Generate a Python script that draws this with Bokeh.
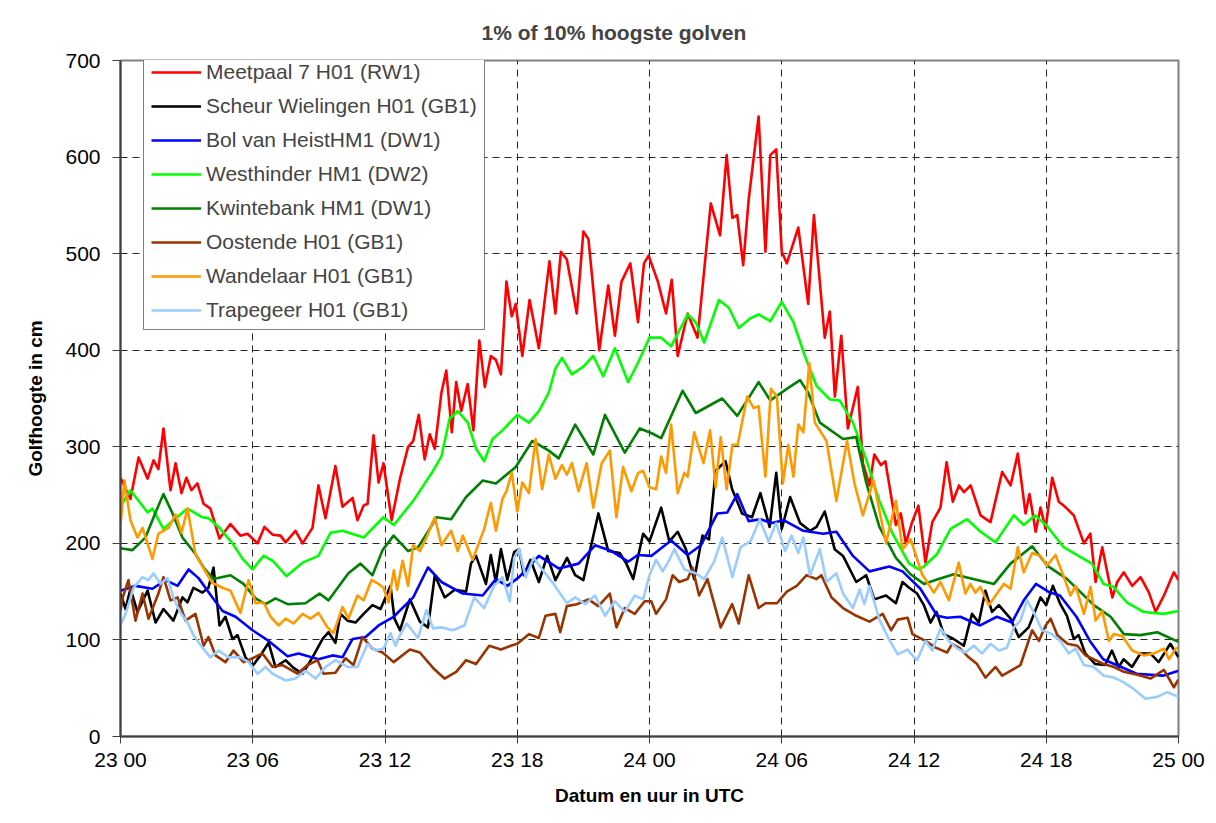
from bokeh.plotting import figure
from bokeh.models import Range1d, FixedTicker, Legend, LegendItem, ColumnDataSource
from bokeh.embed import file_html
from bokeh.resources import INLINE

# ---- data: (hours since 23 00 UTC, wave height in cm) ----
X_TICKS = [0, 6, 12, 18, 24, 30, 36, 42, 48]
X_LABELS = ["23 00", "23 06", "23 12", "23 18", "24 00", "24 06", "24 12", "24 18", "25 00"]
Y_TICKS = [0, 100, 200, 300, 400, 500, 600, 700]

NAMES = ["Meetpaal 7 H01 (RW1)", "Scheur Wielingen H01 (GB1)", "Bol van HeistHM1 (DW1)",
         "Westhinder HM1 (DW2)", "Kwintebank HM1 (DW1)", "Oostende H01 (GB1)",
         "Wandelaar H01 (GB1)", "Trapegeer H01 (GB1)"]
COLORS = ["#FF0000", "#000000", "#0000FF", "#00FF00", "#008000", "#993300", "#FF9900", "#99CCFF"]

meetpaal = [(0.0, 268), (0.45, 246), (0.82, 289), (1.23, 267), (1.5, 286), (1.72, 277), (1.95, 319),
    (2.27, 255), (2.5, 283), (2.77, 252), (2.99, 268), (3.22, 255), (3.49, 262), (3.77, 241), (4.08, 236),
    (4.49, 205), (4.99, 220), (5.44, 208), (5.76, 210), (6.22, 200), (6.53, 217), (6.9, 209), (7.26, 208),
    (7.49, 201), (7.94, 213), (8.26, 200), (8.71, 216), (8.98, 260), (9.3, 226), (9.75, 280), (10.07, 238),
    (10.53, 247), (10.75, 224), (11.03, 239), (11.21, 241), (11.48, 312), (11.71, 263), (11.93, 283),
    (12.3, 224), (12.68, 267), (13.05, 300), (13.28, 306), (13.53, 333), (13.8, 287), (14.03, 313),
    (14.26, 298), (14.56, 356), (14.78, 379), (15.03, 315), (15.23, 367), (15.46, 337), (15.75, 365),
    (16.01, 317), (16.28, 410), (16.53, 362), (16.8, 394), (17.03, 390), (17.26, 375), (17.51, 471),
    (17.75, 435), (17.93, 448), (18.23, 394), (18.56, 452), (18.98, 402), (19.46, 492), (19.73, 438),
    (19.98, 502), (20.25, 494), (20.7, 438), (21.0, 523), (21.23, 515), (21.72, 400), (22.13, 467),
    (22.43, 415), (22.73, 471), (23.13, 490), (23.48, 429), (23.75, 490), (23.96, 498), (24.38, 471),
    (24.75, 438), (25.01, 473), (25.28, 394), (25.73, 438), (26.18, 413), (26.78, 552), (27.2, 519),
    (27.5, 602), (27.76, 537), (27.98, 540), (28.25, 488), (28.5, 556), (28.95, 642), (29.26, 502),
    (29.48, 602), (29.75, 608), (30.0, 502), (30.23, 490), (30.75, 527), (31.2, 448), (31.46, 540),
    (31.95, 413), (32.18, 440), (32.41, 352), (32.7, 415), (33.0, 319), (33.45, 362), (33.68, 283),
    (33.98, 260), (34.2, 292), (34.5, 281), (34.7, 285), (35.18, 219), (35.4, 231), (35.63, 200),
    (35.9, 221), (36.2, 239), (36.52, 180), (36.83, 222), (37.2, 237), (37.48, 284), (37.76, 243),
    (38.04, 260), (38.27, 253), (38.57, 260), (39.02, 229), (39.47, 222), (40.0, 274), (40.38, 260),
    (40.71, 293), (41.06, 231), (41.24, 251), (41.52, 212), (41.74, 237), (41.97, 215), (42.27, 268),
    (42.57, 243), (42.8, 239), (43.25, 229), (43.71, 200), (44.0, 210), (44.24, 160), (44.54, 196),
    (45.0, 144), (45.22, 160), (45.52, 170), (45.9, 156), (46.28, 165), (46.66, 149), (46.96, 129),
    (47.34, 146), (47.79, 170), (48.0, 162)]

scheur = [(0.0, 148), (0.23, 132), (0.45, 153), (0.77, 129), (1.23, 151), (1.59, 118), (1.95, 132),
    (2.4, 120), (2.81, 144), (3.04, 139), (3.31, 154), (3.72, 149), (3.99, 154), (4.22, 175), (4.49, 115),
    (4.76, 124), (5.08, 101), (5.31, 105), (5.67, 82), (5.99, 73), (6.35, 84), (6.72, 97), (7.03, 72),
    (7.49, 79), (7.85, 71), (8.26, 65), (8.71, 82), (9.17, 101), (9.44, 108), (9.75, 97), (9.98, 127),
    (10.3, 120), (10.66, 118), (11.03, 127), (11.43, 136), (11.8, 132), (12.02, 144), (12.25, 156),
    (12.43, 122), (12.68, 110), (13.13, 142), (13.58, 119), (13.95, 113), (14.26, 167), (14.71, 144),
    (15.16, 152), (15.68, 150), (15.9, 179), (16.13, 187), (16.58, 158), (16.8, 188), (17.03, 160),
    (17.26, 194), (17.55, 162), (17.86, 191), (18.08, 194), (18.3, 167), (18.6, 183), (18.98, 160),
    (19.36, 187), (19.73, 162), (20.26, 185), (20.63, 167), (21.0, 162), (21.68, 231), (22.13, 192),
    (22.65, 190), (22.95, 179), (23.26, 163), (23.71, 210), (24.0, 202), (24.53, 237), (24.9, 202),
    (25.28, 212), (25.65, 194), (26.03, 163), (26.4, 208), (26.7, 204), (27.0, 275), (27.45, 285),
    (27.75, 256), (28.2, 231), (28.65, 227), (29.03, 252), (29.45, 217), (29.75, 273), (30.0, 215),
    (30.38, 248), (30.83, 221), (31.28, 213), (31.58, 217), (31.95, 233), (32.4, 194), (32.78, 187),
    (33.38, 160), (33.83, 167), (34.2, 142), (34.73, 146), (35.18, 138), (35.48, 160), (35.78, 154),
    (36.14, 148), (36.45, 136), (36.75, 118), (37.02, 129), (37.35, 106), (37.8, 101), (38.26, 94),
    (38.63, 127), (38.94, 118), (39.24, 151), (39.54, 129), (39.85, 136), (40.38, 122), (40.75, 103),
    (41.2, 113), (41.74, 144), (42.0, 136), (42.3, 156), (42.64, 137), (42.94, 125), (43.25, 101),
    (43.47, 105), (43.77, 86), (44.22, 75), (44.67, 74), (44.98, 89), (45.29, 72), (45.51, 80),
    (45.89, 72), (46.27, 86), (46.72, 86), (47.1, 77), (47.63, 96), (48.0, 82)]

bolvanheist = [(0.0, 151), (0.68, 156), (1.45, 153), (2.04, 162), (2.59, 156), (3.09, 173), (3.54, 164),
    (4.17, 144), (4.63, 130), (5.22, 124), (5.99, 110), (6.72, 99), (7.58, 83), (8.08, 86), (8.98, 80),
    (9.62, 84), (10.07, 82), (10.53, 101), (11.12, 103), (11.71, 115), (12.39, 124), (13.28, 144),
    (13.95, 175), (14.56, 160), (15.53, 148), (16.43, 146), (17.03, 163), (17.55, 156), (18.08, 165),
    (18.98, 187), (19.88, 174), (20.78, 179), (21.53, 198), (22.28, 192), (23.03, 181), (23.48, 188),
    (24.08, 187), (24.98, 203), (25.73, 188), (26.33, 198), (27.08, 231), (27.53, 232), (27.98, 251),
    (28.5, 223), (29.03, 225), (29.55, 221), (30.08, 224), (30.98, 213), (31.88, 210), (32.48, 212),
    (33.23, 187), (33.98, 171), (34.88, 176), (35.48, 171), (35.84, 163), (36.29, 153), (37.05, 125),
    (37.5, 123), (38.1, 124), (39.0, 115), (39.76, 124), (40.44, 118), (40.98, 141), (41.53, 158),
    (42.17, 149), (42.62, 146), (43.37, 124), (43.98, 99), (44.58, 80), (45.19, 74), (46.1, 65),
    (47.3, 63), (48.0, 68)]

westhinder = [(0.0, 238), (0.45, 255), (1.23, 232), (1.45, 236), (1.95, 215), (2.4, 224), (3.04, 236),
    (3.72, 227), (3.99, 226), (4.45, 217), (5.08, 200), (5.54, 184), (5.99, 173), (6.49, 187), (6.9, 182),
    (7.53, 166), (8.26, 180), (8.98, 187), (9.53, 211), (10.07, 213), (11.03, 206), (11.93, 227),
    (12.4, 219), (13.28, 244), (14.18, 275), (14.56, 290), (14.93, 329), (15.3, 337), (15.76, 325),
    (16.13, 298), (16.5, 285), (16.88, 308), (17.33, 317), (18.0, 333), (18.53, 325), (18.98, 337),
    (19.43, 356), (19.73, 381), (20.03, 392), (20.48, 375), (21.0, 383), (21.45, 394), (21.9, 373),
    (22.43, 402), (23.03, 367), (23.48, 387), (24.0, 413), (24.53, 413), (24.98, 404), (25.73, 437),
    (26.1, 429), (26.48, 408), (27.15, 452), (27.6, 444), (28.05, 423), (28.58, 433), (28.95, 437),
    (29.48, 430), (30.0, 450), (30.53, 429), (31.05, 394), (31.58, 363), (32.18, 349), (32.63, 348),
    (33.23, 325), (33.83, 287), (34.43, 244), (35.03, 210), (35.78, 179), (36.23, 173), (36.45, 176),
    (37.05, 189), (37.66, 215), (38.41, 225), (39.02, 212), (39.7, 201), (40.53, 229), (40.98, 219),
    (41.5, 229), (42.03, 218), (42.79, 196), (43.54, 186), (44.07, 179), (44.6, 158), (45.05, 155),
    (45.65, 139), (46.41, 129), (47.32, 127), (48.0, 130)]

kwintebank = [(0.0, 195), (0.54, 193), (1.13, 206), (1.59, 232), (1.95, 251), (2.36, 231), (2.81, 206),
    (3.4, 189), (3.77, 175), (4.22, 163), (4.99, 167), (5.58, 158), (6.13, 143), (6.58, 137), (7.03, 143),
    (7.58, 137), (8.39, 138), (9.03, 148), (9.44, 141), (10.34, 169), (10.89, 179), (11.43, 167),
    (11.89, 193), (12.39, 208), (13.05, 192), (13.5, 196), (13.95, 212), (14.33, 227), (15.0, 225),
    (15.68, 248), (16.43, 265), (17.03, 262), (17.93, 279), (18.68, 306), (19.43, 296), (19.88, 288),
    (20.63, 323), (21.45, 292), (21.98, 333), (22.88, 294), (23.56, 319), (24.1, 314), (24.53, 309),
    (25.5, 358), (26.1, 335), (27.3, 350), (27.98, 332), (28.95, 367), (29.48, 348), (30.23, 360),
    (30.83, 369), (31.2, 356), (31.73, 325), (32.78, 308), (33.38, 310), (33.83, 263), (34.43, 217),
    (35.18, 185), (35.84, 168), (36.45, 158), (36.98, 162), (37.8, 168), (38.87, 162), (39.63, 158),
    (40.38, 179), (41.36, 197), (42.04, 177), (42.95, 163), (44.16, 136), (44.92, 124), (45.52, 106),
    (46.28, 105), (47.04, 108), (48.0, 98)]

oostende = [(0.0, 130), (0.09, 143), (0.36, 162), (0.68, 120), (1.0, 148), (1.27, 122), (1.72, 148),
    (1.95, 165), (2.27, 141), (2.59, 144), (2.95, 120), (3.4, 127), (3.77, 94), (3.99, 103), (4.31, 84),
    (4.76, 77), (5.13, 89), (5.58, 77), (5.99, 81), (6.44, 86), (6.9, 72), (7.35, 74), (8.03, 65),
    (8.48, 74), (8.94, 79), (9.21, 65), (9.75, 66), (10.21, 81), (10.57, 74), (10.98, 103), (11.43, 91),
    (11.89, 87), (12.39, 77), (13.13, 90), (13.58, 87), (14.18, 71), (14.7, 60), (15.23, 67), (15.68, 79),
    (16.13, 75), (16.73, 94), (17.26, 90), (17.71, 94), (18.0, 96), (18.53, 106), (18.98, 102),
    (19.28, 125), (19.73, 127), (19.95, 108), (20.25, 135), (20.7, 137), (21.23, 142), (21.68, 135),
    (22.2, 148), (22.5, 113), (22.88, 133), (23.33, 127), (23.78, 140), (24.08, 140), (24.3, 127),
    (24.75, 142), (25.05, 167), (25.35, 160), (25.73, 163), (25.95, 175), (26.25, 146), (26.63, 163),
    (27.23, 113), (27.75, 137), (28.05, 117), (28.5, 167), (28.95, 133), (29.26, 138), (29.78, 138),
    (30.23, 150), (30.68, 156), (31.13, 167), (31.58, 163), (31.8, 167), (32.26, 144), (32.78, 133),
    (33.38, 125), (33.98, 119), (34.58, 127), (34.96, 110), (35.26, 121), (35.71, 123), (35.93, 106),
    (36.52, 99), (36.98, 92), (37.5, 87), (37.73, 96), (38.1, 91), (38.48, 82), (38.86, 75), (39.24, 61),
    (39.7, 72), (40.0, 63), (40.38, 68), (40.83, 74), (41.36, 110), (41.67, 99), (41.97, 115), (42.2, 122),
    (42.5, 105), (42.96, 96), (43.41, 94), (43.78, 84), (44.24, 79), (44.61, 75), (45.07, 72), (45.52, 67),
    (46.13, 64), (46.73, 60), (47.34, 69), (47.79, 51), (48.0, 59)]

wandelaar = [(0.0, 219), (0.18, 265), (0.45, 224), (0.77, 206), (1.0, 216), (1.45, 184), (1.72, 210),
    (2.18, 216), (2.5, 230), (2.77, 211), (3.04, 236), (3.4, 189), (3.77, 174), (4.17, 159), (4.63, 154),
    (4.99, 151), (5.44, 128), (5.81, 162), (6.13, 138), (6.49, 139), (6.81, 124), (7.17, 115), (7.49, 122),
    (7.85, 117), (8.26, 127), (8.62, 122), (8.98, 128), (9.39, 113), (9.66, 107), (10.07, 134), (10.34, 122),
    (10.75, 146), (11.03, 141), (11.39, 162), (11.71, 158), (11.93, 154), (12.16, 139), (12.4, 172),
    (12.55, 152), (12.8, 182), (13.05, 156), (13.28, 198), (13.58, 192), (13.88, 206), (14.26, 227),
    (14.56, 198), (15.0, 213), (15.3, 192), (15.53, 208), (15.98, 183), (16.5, 215), (16.8, 242),
    (17.03, 213), (17.33, 246), (17.51, 254), (17.75, 273), (18.0, 233), (18.23, 263), (18.53, 252),
    (18.83, 308), (19.13, 256), (19.43, 292), (19.73, 267), (20.03, 281), (20.25, 271), (20.48, 283),
    (20.78, 254), (21.15, 283), (21.45, 237), (21.83, 283), (22.2, 296), (22.5, 227), (22.8, 279),
    (23.18, 254), (23.48, 273), (23.71, 275), (24.0, 258), (24.3, 256), (24.53, 290), (24.75, 273),
    (24.98, 323), (25.28, 252), (25.58, 273), (25.73, 269), (26.03, 315), (26.45, 283), (26.75, 317),
    (27.0, 258), (27.23, 310), (27.5, 256), (27.76, 302), (28.0, 302), (28.43, 352), (28.73, 340),
    (28.95, 342), (29.26, 269), (29.51, 360), (29.78, 352), (30.05, 262), (30.3, 302), (30.53, 269),
    (30.75, 323), (30.98, 315), (31.25, 387), (31.5, 325), (32.03, 306), (32.48, 244), (32.96, 306),
    (33.3, 262), (33.68, 229), (34.16, 265), (34.73, 200), (35.18, 244), (35.48, 194), (35.85, 204),
    (36.37, 168), (36.9, 149), (37.2, 160), (37.58, 141), (38.03, 180), (38.33, 148), (38.56, 158),
    (38.78, 149), (39.01, 155), (39.39, 136), (39.77, 148), (40.07, 158), (40.38, 153), (40.71, 196),
    (40.98, 170), (41.36, 190), (41.74, 187), (42.04, 177), (42.42, 188), (42.8, 165), (43.1, 146),
    (43.33, 156), (43.71, 127), (44.01, 155), (44.24, 120), (44.54, 130), (44.84, 99), (45.07, 106),
    (45.45, 104), (45.9, 89), (46.43, 84), (46.89, 86), (47.34, 91), (47.57, 80), (47.87, 91), (48.0, 92)]

trapegeer = [(0.0, 115), (0.23, 127), (0.59, 154), (1.0, 165), (1.27, 162), (1.5, 169), (1.81, 158),
    (2.13, 164), (2.4, 144), (2.72, 128), (3.04, 118), (3.31, 105), (3.72, 92), (4.08, 82), (4.45, 89),
    (4.9, 82), (5.44, 82), (5.81, 77), (6.22, 65), (6.58, 72), (6.9, 65), (7.49, 58), (7.94, 60), (8.39, 68),
    (8.85, 60), (9.3, 72), (9.75, 79), (10.3, 72), (10.75, 72), (11.21, 96), (11.57, 89), (11.93, 91),
    (12.25, 107), (12.48, 94), (12.68, 105), (12.98, 117), (13.5, 102), (13.88, 131), (14.18, 112),
    (14.56, 113), (15.08, 110), (15.6, 115), (16.05, 144), (16.5, 133), (16.95, 156), (17.33, 165),
    (17.66, 140), (17.86, 185), (18.08, 194), (18.38, 165), (18.75, 185), (19.13, 173), (19.65, 158),
    (20.25, 138), (20.63, 144), (21.08, 137), (21.53, 146), (21.98, 125), (22.43, 140), (22.88, 129),
    (23.33, 146), (23.71, 142), (24.0, 167), (24.3, 183), (24.6, 171), (24.9, 183), (25.13, 194),
    (25.58, 173), (26.1, 169), (26.48, 163), (26.93, 181), (27.3, 206), (27.76, 165), (28.13, 196),
    (28.58, 202), (29.0, 225), (29.4, 202), (29.75, 221), (30.15, 192), (30.45, 208), (30.75, 190),
    (30.98, 206), (31.28, 167), (31.73, 194), (32.03, 160), (32.48, 169), (32.78, 148), (33.23, 133),
    (33.53, 152), (33.75, 137), (33.98, 156), (34.43, 121), (34.88, 100), (35.26, 85), (35.71, 90),
    (35.84, 86), (36.14, 79), (36.52, 99), (36.83, 89), (37.2, 112), (37.58, 99), (37.96, 91), (38.33, 87),
    (38.71, 94), (39.09, 86), (39.47, 96), (39.85, 89), (40.22, 92), (40.53, 113), (40.83, 120),
    (41.13, 141), (41.43, 129), (41.81, 110), (42.27, 106), (42.64, 99), (43.02, 86), (43.33, 91),
    (43.71, 74), (44.16, 72), (44.61, 63), (45.07, 61), (45.52, 56), (45.98, 49), (46.5, 39), (47.04, 41),
    (47.49, 46), (48.0, 41)]

SERIES = [meetpaal, scheur, bolvanheist, westhinder, kwintebank, oostende, wandelaar, trapegeer]

FONT = "Liberation Sans"

p = figure(width=1208, height=815, output_backend="svg", toolbar_location=None,
           x_range=Range1d(0, 48), y_range=Range1d(0, 700),
           min_border_left=120, min_border_right=30, min_border_top=60, min_border_bottom=79)

p.title.text = "1% of 10% hoogste golven"
p.title.text_font = FONT
p.title.text_font_size = "21px"
p.title.text_font_style = "bold"
p.title.align = "left"
p.title.offset = 361
p.title.standoff = 34

p.background_fill_color = "white"
p.border_fill_color = "white"
p.outline_line_color = "#808080"
p.outline_line_width = 2

# grids
for g in (p.xgrid, p.ygrid):
    g.grid_line_color = "#000000"
    g.grid_line_dash = "7 5"
    g.grid_line_width = 1
    g.grid_line_alpha = 0.85
p.xgrid.ticker = FixedTicker(ticks=X_TICKS)
p.ygrid.ticker = FixedTicker(ticks=Y_TICKS)

# axes
p.xaxis.ticker = FixedTicker(ticks=X_TICKS)
p.xaxis.major_label_overrides = {t: l for t, l in zip(X_TICKS, X_LABELS)}
p.yaxis.ticker = FixedTicker(ticks=Y_TICKS)
for ax in (p.xaxis[0], p.yaxis[0]):
    ax.axis_line_color = "#404040"
    ax.axis_line_width = 2
    ax.major_tick_line_color = "#404040"
    ax.major_tick_line_width = 1
    ax.major_tick_in = 0
    ax.minor_tick_line_color = None
    ax.major_label_text_font = FONT
    ax.major_label_text_font_size = "21px"
    ax.major_label_text_color = "black"
    ax.axis_label_text_font = FONT
    ax.axis_label_text_font_size = "19px"
    ax.axis_label_text_font_style = "bold"
    ax.axis_label_text_color = "black"
p.xaxis.major_tick_out = 7
p.yaxis.major_tick_out = 8
p.xaxis.major_label_standoff = 4
p.yaxis.major_label_standoff = 12
p.xaxis.axis_label = "Datum en uur in UTC"
p.yaxis.axis_label = "Golfhoogte in cm"
p.xaxis.axis_label_standoff = 11
p.yaxis.axis_label_standoff = 16

items = []
for name, color, data in zip(NAMES, COLORS, SERIES):
    src = ColumnDataSource(dict(t=[d[0] for d in data], v=[d[1] for d in data]))
    r = p.line("t", "v", source=src, line_color=color, line_width=2.6, line_join="round")
    items.append(LegendItem(label=name, renderers=[r]))

legend = Legend(items=items, location=(23, 406))
legend.label_text_font = FONT
legend.label_text_font_size = "21px"
legend.glyph_width = 50
legend.glyph_height = 24
legend.label_height = 24
legend.label_standoff = 5
legend.spacing = 10
legend.padding = 7
legend.margin = 0
legend.border_line_color = "black"
legend.border_line_width = 1
legend.background_fill_color = "white"
legend.background_fill_alpha = 1
p.add_layout(legend, "center")

open("out.html", "w").write(file_html(p, INLINE))
